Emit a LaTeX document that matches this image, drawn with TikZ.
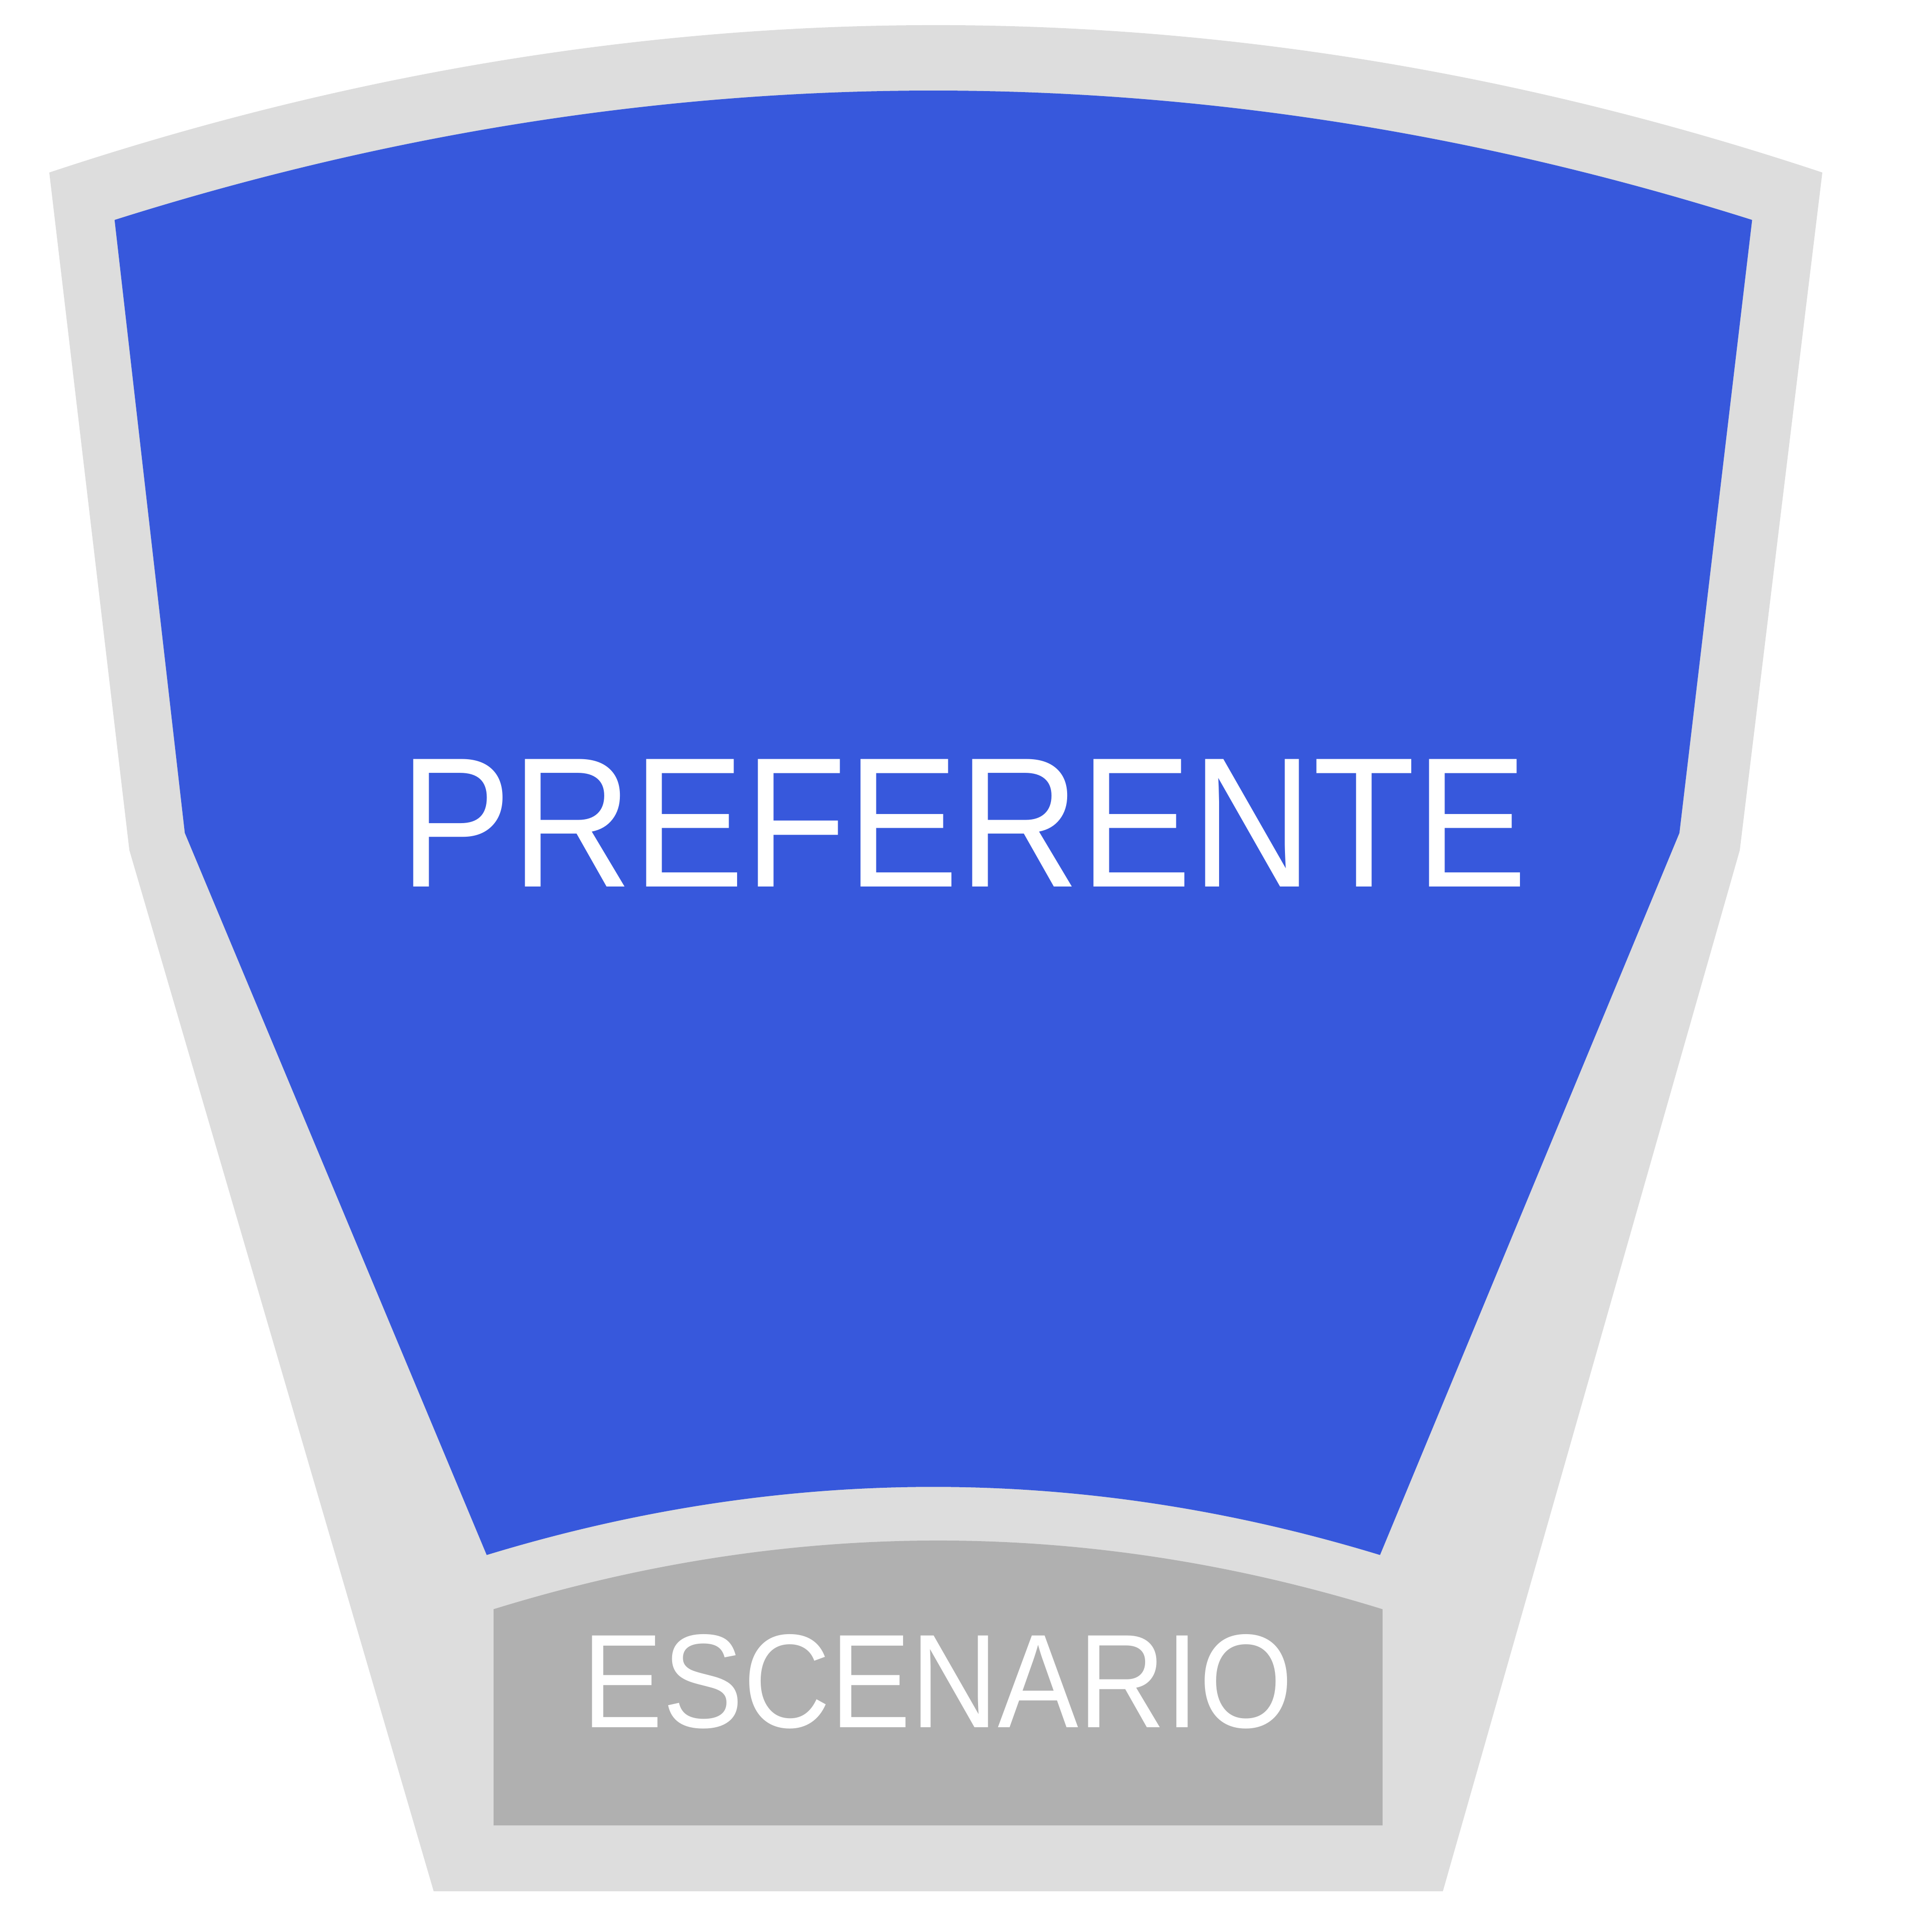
\documentclass[tikz,border=0pt]{standalone}
\usepackage{fontspec}
\setmainfont{Liberation Sans}
\definecolor{seatblue}{RGB}{55,88,220}
\definecolor{lightgrey}{RGB}{221,221,221}
\definecolor{stagegrey}{RGB}{176,176,176}
\tikzset{
  outerzone/.style={fill=lightgrey},
  bluezone/.style={fill=seatblue},
  stagezone/.style={fill=stagegrey},
  biglabel/.style={text=white, inner sep=0pt, anchor=base, font=\fontsize{42.8}{50}\selectfont},
  smalllabel/.style={text=white, inner sep=0pt, anchor=base, font=\fontsize{30.8}{36}\selectfont}
}
\begin{document}
\begin{tikzpicture}[x=0.1mm, y=-0.1mm]
\useasboundingbox (0,0) rectangle (1568,1568);
% outer light grey frame
\fill[outerzone] (40,140) .. controls (519.7,-19.5) and (999.3,-19.5) .. (1479,140)
  -- (1412,690) -- (1171,1535) -- (352,1535) -- (105,690) -- cycle;
% blue seating block
\fill[bluezone] (93,178.5) .. controls (536,38.5) and (979,38.5) .. (1422,178.5)
  -- (1363,676) -- (1120,1262) .. controls (878.3,1188.3) and (636.7,1188.3) .. (395,1262)
  -- (150,676) -- cycle;
% stage
\fill[stagezone] (400.6,1306) .. controls (641,1231.7) and (881.5,1231.7) .. (1122,1306)
  -- (1122,1481.5) -- (400.6,1481.5) -- cycle;
\node[biglabel] (pref) at (782,719.5) {\scalebox{0.905}[1]{PREFERENTE}};
\node[smalllabel] (stage) at (761,1401.8) {\scalebox{0.905}[1]{ESCENARIO}};
\end{tikzpicture}
\end{document}
